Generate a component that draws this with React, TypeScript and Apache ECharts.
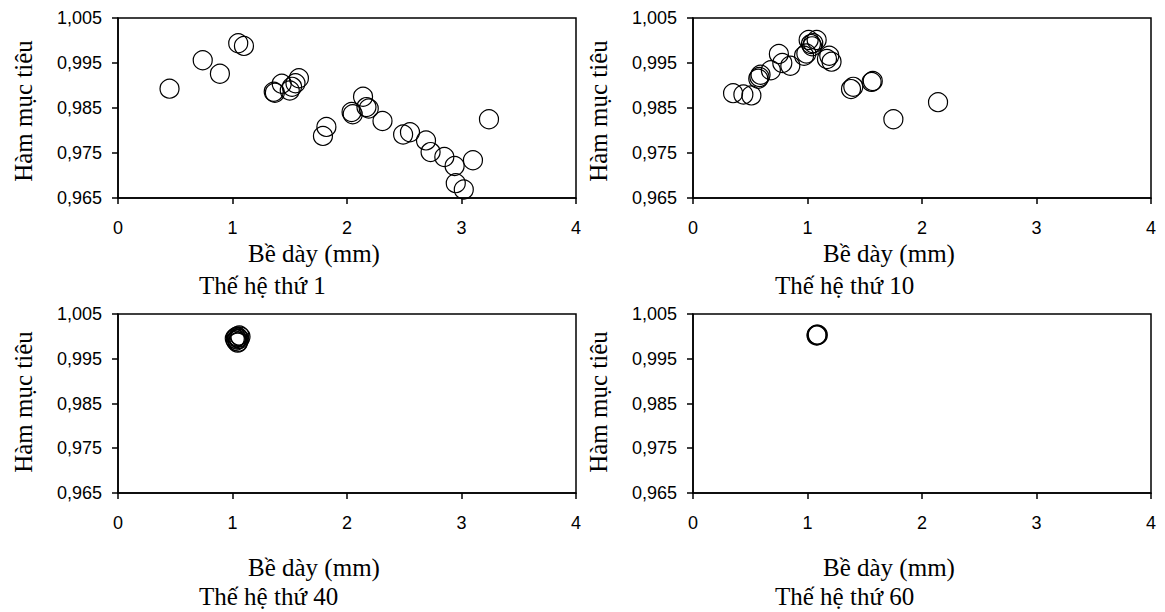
import React, { useEffect, useRef } from "react";
import * as echarts from "echarts";

// ---- Data ----
const X_TICKS = [0, 1, 2, 3, 4];
const Y_TICKS = [0.965, 0.975, 0.985, 0.995, 1.005];

const X_TITLE = "Bề dày (mm)";
const Y_TITLE = "Hàm mục tiêu";
const PANEL_TITLES = ["Thế hệ thứ 1", "Thế hệ thứ 10", "Thế hệ thứ 40", "Thế hệ thứ 60"];

const GEN1 = [
  [0.45, 0.9893], [0.74, 0.9956], [0.89, 0.9926], [1.05, 0.9994], [1.1, 0.9988],
  [1.36, 0.9886], [1.37, 0.9884], [1.43, 0.9904], [1.5, 0.9889], [1.52, 0.9897],
  [1.55, 0.9905], [1.58, 0.9916], [1.79, 0.9788], [1.82, 0.9808], [2.04, 0.9841],
  [2.05, 0.9836], [2.14, 0.9875], [2.17, 0.9852], [2.19, 0.9849], [2.31, 0.9821],
  [2.49, 0.9791], [2.55, 0.9796], [2.69, 0.9778], [2.73, 0.9752], [2.85, 0.9741],
  [2.94, 0.9721], [2.95, 0.9683], [3.02, 0.9669], [3.1, 0.9734], [3.24, 0.9825],
];

const GEN10 = [
  [0.35, 0.9883], [0.44, 0.988], [0.51, 0.9878], [0.57, 0.9915], [0.58, 0.9919],
  [0.59, 0.9924], [0.68, 0.9934], [0.75, 0.997], [0.78, 0.995], [0.85, 0.9944],
  [0.97, 0.9966], [0.99, 0.9971], [1.01, 1.0001], [1.03, 0.9992], [1.04, 0.9987],
  [1.05, 0.9994], [1.08, 1.0001], [1.17, 0.9959], [1.19, 0.9966], [1.21, 0.9953],
  [1.38, 0.9892], [1.4, 0.9897], [1.56, 0.9908], [1.57, 0.991], [1.75, 0.9825],
  [2.14, 0.9863],
];

const GEN40 = [
  [1.02, 0.9995], [1.03, 0.999], [1.04, 1.0], [1.05, 0.9997], [1.06, 1.0002],
  [1.07, 0.9999], [1.05, 0.9988], [1.04, 0.9993], [1.03, 0.9998], [1.06, 0.9994],
  [1.045, 0.9986],
];

const GEN60 = [
  [1.08, 1.0003], [1.085, 1.0004], [1.08, 1.0002], [1.09, 1.0003],
];

const GENERATIONS = [GEN1, GEN10, GEN40, GEN60];

// ---- Layout ----
const GRIDS = [
  { left: 118, top: 18, width: 458, height: 180 },
  { left: 693, top: 18, width: 458, height: 180 },
  { left: 118, top: 314, width: 458, height: 179 },
  { left: 693, top: 314, width: 458, height: 179 },
];
const X_TITLE_POS = [
  [248, 253], [823, 253], [248, 567], [823, 567],
];
const SUB_TITLE_POS = [
  [199, 285], [775, 285], [199, 596], [775, 596],
];
const Y_TITLE_POS = [
  [23, 111], [598, 111], [23, 402], [598, 402],
];

const SERIF = '"Liberation Serif", "Times New Roman", serif';
const SANS = '"Liberation Sans", Arial, sans-serif';

export default function App() {
  const ref = useRef<HTMLDivElement>(null);

  useEffect(() => {
    if (!ref.current) return;
    const chart = echarts.init(ref.current, undefined, { renderer: "svg" });

    const lineStyle = { color: "#000", width: 1.5 };

    const grid = GRIDS.map((g) => ({
      ...g,
      show: true,
      borderColor: "#000",
      borderWidth: 1.5,
      backgroundColor: "transparent",
      containLabel: false,
    }));

    const xAxis = GRIDS.map((_, i) => ({
      type: "value",
      gridIndex: i,
      min: X_TICKS[0],
      max: X_TICKS[X_TICKS.length - 1],
      interval: 1,
      axisLine: { show: true, onZero: false, lineStyle },
      axisTick: { show: true, inside: false, length: 6, lineStyle },
      axisLabel: {
        show: true,
        margin: 21,
        color: "#000",
        fontFamily: SANS,
        fontSize: 18,
        formatter: (v: number) => String(v),
      },
      splitLine: { show: false },
    }));

    const yAxis = GRIDS.map((_, i) => ({
      type: "value",
      gridIndex: i,
      min: Y_TICKS[0],
      max: Y_TICKS[Y_TICKS.length - 1],
      axisLine: { show: true, onZero: false, lineStyle },
      axisTick: { show: true, inside: false, length: 6, lineStyle, customValues: Y_TICKS },
      axisLabel: {
        show: true,
        margin: 16,
        color: "#000",
        fontFamily: SANS,
        fontSize: 18,
        customValues: Y_TICKS,
        formatter: (v: number) => v.toFixed(3).replace(".", ","),
      },
      splitLine: { show: false },
    }));

    const series = GENERATIONS.map((data, i) => ({
      type: "scatter",
      xAxisIndex: i,
      yAxisIndex: i,
      data,
      symbol: "circle",
      symbolSize: 19,
      itemStyle: {
        color: "rgba(0,0,0,0)",
        borderColor: "#000",
        borderWidth: 1.2,
        opacity: 1,
      },
      emphasis: { disabled: true },
    }));

    const graphic: any[] = [];
    for (let i = 0; i < 4; i++) {
      graphic.push({
        type: "text",
        x: X_TITLE_POS[i][0],
        y: X_TITLE_POS[i][1],
        style: {
          text: X_TITLE,
          fill: "#000",
          fontFamily: SERIF,
          fontSize: 25,
          align: "left",
          verticalAlign: "middle",
        },
      });
      graphic.push({
        type: "text",
        x: SUB_TITLE_POS[i][0],
        y: SUB_TITLE_POS[i][1],
        style: {
          text: PANEL_TITLES[i],
          fill: "#000",
          fontFamily: SERIF,
          fontSize: 25,
          align: "left",
          verticalAlign: "middle",
        },
      });
      graphic.push({
        type: "text",
        x: Y_TITLE_POS[i][0],
        y: Y_TITLE_POS[i][1],
        rotation: Math.PI / 2,
        style: {
          text: Y_TITLE,
          fill: "#000",
          fontFamily: SERIF,
          fontSize: 25,
          align: "center",
          verticalAlign: "middle",
        },
      });
    }

    chart.setOption({
      animation: false,
      backgroundColor: "#fff",
      grid,
      xAxis,
      yAxis,
      series,
      graphic,
    });

    return () => chart.dispose();
  }, []);

  return (
    <div
      ref={ref}
      style={{ position: "fixed", left: 0, top: 0, width: 1165, height: 612 }}
    />
  );
}
